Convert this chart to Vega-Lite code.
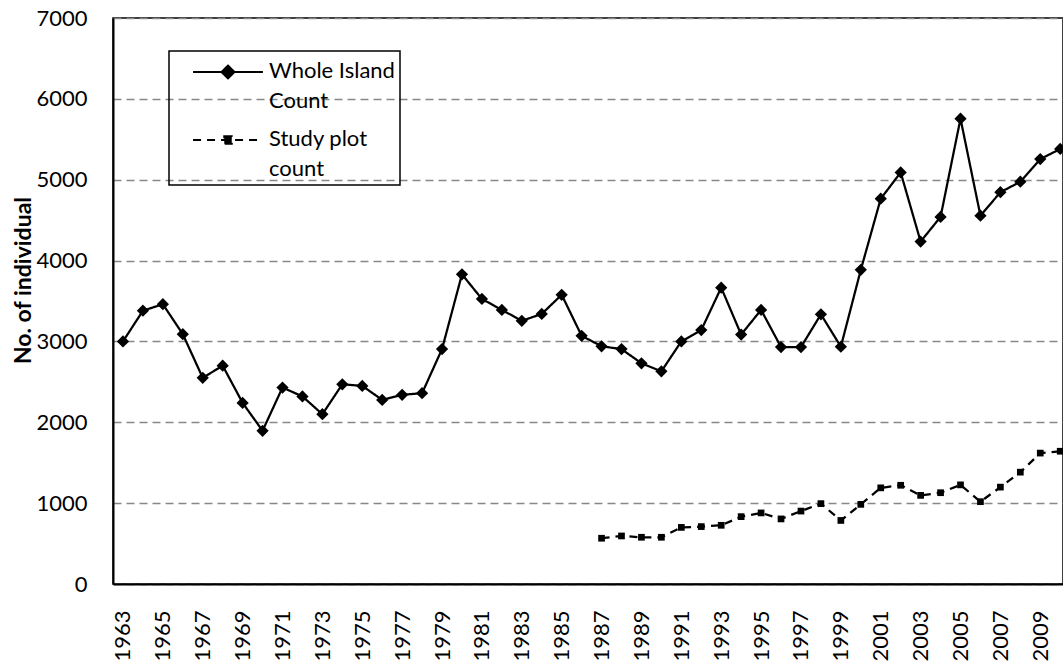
{
  "$schema": "https://vega.github.io/schema/vega-lite/v6.json",
  "width": 950,
  "height": 566,
  "autosize": {"type": "none"},
  "padding": {"left": 113, "top": 18, "right": 0, "bottom": 82},
  "background": "white",
  "config": {
    "view": {"stroke": "black", "strokeWidth": 1.5},
    "font": "Lato",
    "axis": {"labelFont": "Lato", "titleFont": "Lato", "labelColor": "black", "titleColor": "black"}
  },
  "data": {
    "values": [
      {"year": 1963, "series": "Whole Island Count", "count": 3000},
      {"year": 1964, "series": "Whole Island Count", "count": 3380},
      {"year": 1965, "series": "Whole Island Count", "count": 3460},
      {"year": 1966, "series": "Whole Island Count", "count": 3090},
      {"year": 1967, "series": "Whole Island Count", "count": 2550},
      {"year": 1968, "series": "Whole Island Count", "count": 2700},
      {"year": 1969, "series": "Whole Island Count", "count": 2240},
      {"year": 1970, "series": "Whole Island Count", "count": 1895},
      {"year": 1971, "series": "Whole Island Count", "count": 2430},
      {"year": 1972, "series": "Whole Island Count", "count": 2320},
      {"year": 1973, "series": "Whole Island Count", "count": 2100},
      {"year": 1974, "series": "Whole Island Count", "count": 2470},
      {"year": 1975, "series": "Whole Island Count", "count": 2450},
      {"year": 1976, "series": "Whole Island Count", "count": 2277},
      {"year": 1977, "series": "Whole Island Count", "count": 2340},
      {"year": 1978, "series": "Whole Island Count", "count": 2360},
      {"year": 1979, "series": "Whole Island Count", "count": 2905},
      {"year": 1980, "series": "Whole Island Count", "count": 3830},
      {"year": 1981, "series": "Whole Island Count", "count": 3525},
      {"year": 1982, "series": "Whole Island Count", "count": 3390},
      {"year": 1983, "series": "Whole Island Count", "count": 3255},
      {"year": 1984, "series": "Whole Island Count", "count": 3340},
      {"year": 1985, "series": "Whole Island Count", "count": 3577},
      {"year": 1986, "series": "Whole Island Count", "count": 3070},
      {"year": 1987, "series": "Whole Island Count", "count": 2940},
      {"year": 1988, "series": "Whole Island Count", "count": 2905},
      {"year": 1989, "series": "Whole Island Count", "count": 2730},
      {"year": 1990, "series": "Whole Island Count", "count": 2630},
      {"year": 1991, "series": "Whole Island Count", "count": 3000},
      {"year": 1992, "series": "Whole Island Count", "count": 3140},
      {"year": 1993, "series": "Whole Island Count", "count": 3665},
      {"year": 1994, "series": "Whole Island Count", "count": 3085},
      {"year": 1995, "series": "Whole Island Count", "count": 3390},
      {"year": 1996, "series": "Whole Island Count", "count": 2930},
      {"year": 1997, "series": "Whole Island Count", "count": 2930},
      {"year": 1998, "series": "Whole Island Count", "count": 3335},
      {"year": 1999, "series": "Whole Island Count", "count": 2935},
      {"year": 2000, "series": "Whole Island Count", "count": 3885},
      {"year": 2001, "series": "Whole Island Count", "count": 4765},
      {"year": 2002, "series": "Whole Island Count", "count": 5090},
      {"year": 2003, "series": "Whole Island Count", "count": 4235},
      {"year": 2004, "series": "Whole Island Count", "count": 4540},
      {"year": 2005, "series": "Whole Island Count", "count": 5755},
      {"year": 2006, "series": "Whole Island Count", "count": 4555},
      {"year": 2007, "series": "Whole Island Count", "count": 4845},
      {"year": 2008, "series": "Whole Island Count", "count": 4975},
      {"year": 2009, "series": "Whole Island Count", "count": 5255},
      {"year": 2010, "series": "Whole Island Count", "count": 5380},
      {"year": 1987, "series": "Study plot count", "count": 566},
      {"year": 1988, "series": "Study plot count", "count": 594},
      {"year": 1989, "series": "Study plot count", "count": 578},
      {"year": 1990, "series": "Study plot count", "count": 578},
      {"year": 1991, "series": "Study plot count", "count": 700},
      {"year": 1992, "series": "Study plot count", "count": 710},
      {"year": 1993, "series": "Study plot count", "count": 726},
      {"year": 1994, "series": "Study plot count", "count": 833},
      {"year": 1995, "series": "Study plot count", "count": 879},
      {"year": 1996, "series": "Study plot count", "count": 805},
      {"year": 1997, "series": "Study plot count", "count": 902},
      {"year": 1998, "series": "Study plot count", "count": 994},
      {"year": 1999, "series": "Study plot count", "count": 786},
      {"year": 2000, "series": "Study plot count", "count": 985},
      {"year": 2001, "series": "Study plot count", "count": 1189},
      {"year": 2002, "series": "Study plot count", "count": 1221},
      {"year": 2003, "series": "Study plot count", "count": 1096},
      {"year": 2004, "series": "Study plot count", "count": 1129},
      {"year": 2005, "series": "Study plot count", "count": 1226},
      {"year": 2006, "series": "Study plot count", "count": 1018},
      {"year": 2007, "series": "Study plot count", "count": 1198},
      {"year": 2008, "series": "Study plot count", "count": 1383},
      {"year": 2009, "series": "Study plot count", "count": 1619},
      {"year": 2010, "series": "Study plot count", "count": 1642}
    ]
  },
  "encoding": {
    "x": {
      "field": "year", "type": "quantitative",
      "scale": {"domain": [1962.5, 2010.14], "nice": false, "zero": false},
      "axis": {
        "title": null,
        "values": [1963,1965,1967,1969,1971,1973,1975,1977,1979,1981,1983,1985,1987,1989,1991,1993,1995,1997,1999,2001,2003,2005,2007,2009],
        "format": "d",
        "labelAngle": -90,
        "labelAlign": "right",
        "labelBaseline": "middle",
        "labelFontSize": 22,
        "labelPadding": 26,
        "labelOverlap": false,
        "labelFlush": false,
        "ticks": false,
        "grid": false,
        "domainColor": "black",
        "domainWidth": 2
      }
    },
    "y": {
      "field": "count", "type": "quantitative",
      "scale": {"domain": [0, 7000], "nice": false},
      "axis": {
        "title": "No. of individual",
        "titleFontSize": 23,
        "titleFontWeight": "bold",
        "titleAngle": -90,
        "titleX": -90,
        "titleY": 262,
        "titleAlign": "center",
        "titleBaseline": "middle",
        "values": [0,1000,2000,3000,4000,5000,6000,7000],
        "format": "d",
        "labelFontSize": 22,
        "labelPadding": 26,
        "ticks": false,
        "grid": true,
        "gridColor": "#888888",
        "gridDash": [8, 5],
        "gridWidth": 1.5,
        "domainColor": "black",
        "domainWidth": 2
      }
    }
  },
  "layer": [
    {
      "mark": {"type": "line", "color": "black", "strokeWidth": 2.25},
      "encoding": {
        "strokeDash": {
          "field": "series", "type": "nominal",
          "scale": {"domain": ["Whole Island Count", "Study plot count"], "range": [[1, 0], [8, 6]]},
          "legend": {
            "title": null,
            "orient": "none",
            "legendX": 56,
            "legendY": 33,
            "padding": 5,
            "strokeColor": "black",
            "symbolSize": 900,
            "symbolStrokeWidth": 2,
            "symbolStrokeColor": "black",
            "symbolFillColor": "black",
            "symbolOffset": 38,
            "labelOffset": 25,
            "labelFont": "Lato",
            "labelFontSize": 22,
            "labelColor": "black",
            "labelLimit": 300,
            "labelBaseline": "alphabetic",
            "rowPadding": 12,
            "labelExpr": "datum.label == 'Whole Island Count' ? ['Whole Island', 'Count'] : ['Study plot', 'count']",
            "encode": {
              "legend": {
                "update": {
                  "stroke": {"value": "black"},
                  "strokeWidth": {"value": 1.5}
                }
              },
              "symbols": {
                "update": {
                  "shape": {"signal": "datum.value == 'Whole Island Count' ? 'M-2.33,0H2.33M0,-0.43L0.43,0L0,0.43L-0.43,0Z' : 'M-2.33,0H2.33M-0.25,-0.25H0.25V0.25H-0.25Z'"},
                  "size": {"value": 900},
                  "fill": {"value": "black"},
                  "stroke": {"value": "black"},
                  "strokeWidth": {"value": 2},
                  "strokeOpacity": {"value": 1},
                  "opacity": {"value": 1}
                }
              },
              "labels": {
                "update": {
                  "lineHeight": {"value": 30},
                  "dy": {"value": 6}
                }
              }
            }
          }
        }
      }
    },
    {
      "transform": [{"filter": "datum.series == 'Whole Island Count'"}],
      "mark": {"type": "point", "filled": true, "color": "black", "opacity": 1, "shape": "diamond", "size": 150},
      "encoding": {}
    },
    {
      "transform": [{"filter": "datum.series == 'Study plot count'"}],
      "mark": {"type": "point", "filled": true, "color": "black", "opacity": 1, "shape": "square", "size": 45},
      "encoding": {}
    }
  ]
}
